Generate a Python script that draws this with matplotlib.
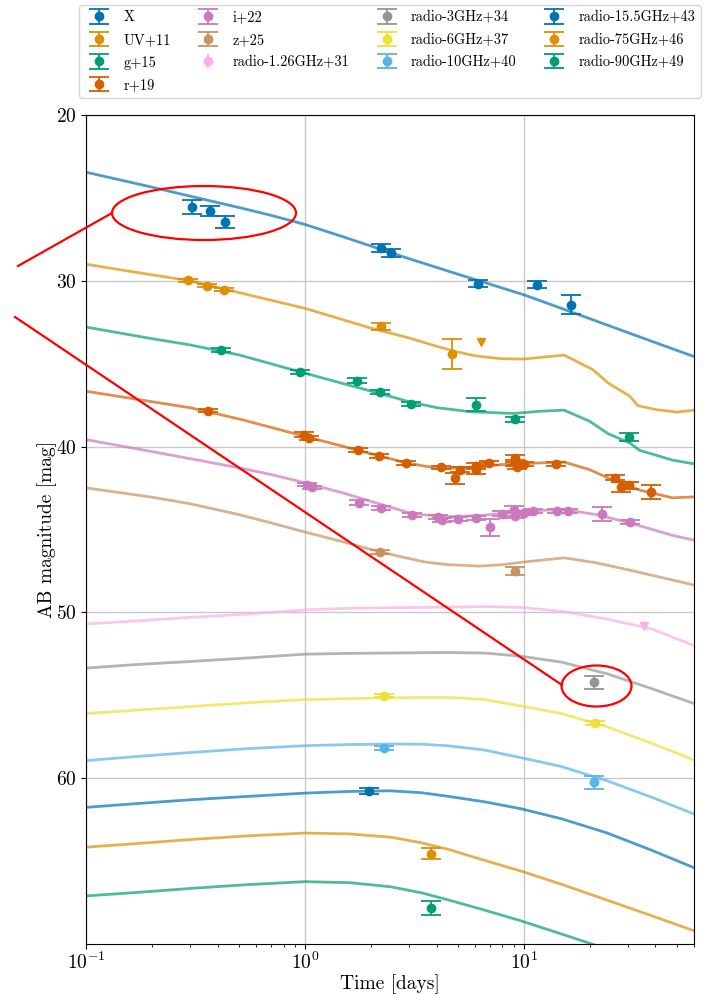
import numpy as np
import matplotlib
matplotlib.use('Agg')
import matplotlib.pyplot as plt
from matplotlib.patches import Ellipse
from matplotlib.lines import Line2D

plt.rcParams['font.family'] = 'serif'
plt.rcParams['font.serif'] = ['cmr10']
plt.rcParams['mathtext.fontset'] = 'cm'
plt.rcParams['axes.formatter.use_mathtext'] = True
plt.rcParams['axes.unicode_minus'] = False

colors = ['#0173B2', '#DE8F05', '#029E73', '#D55E00', '#CC78BC', '#CA9161',
          '#FBAFE4', '#949494', '#ECE133', '#56B4E9', '#0173B2', '#DE8F05', '#029E73']
labels = ['X', 'UV+11', 'g+15', 'r+19', 'i+22', 'z+25', 'radio-1.26GHz+31',
          'radio-3GHz+34', 'radio-6GHz+37', 'radio-10GHz+40', 'radio-15.5GHz+43',
          'radio-75GHz+46', 'radio-90GHz+49']

# model light curves (days, shifted AB mag)
mt_X = [0.1, 0.2, 0.3, 0.5, 0.7, 1, 1.5, 2, 3, 5, 7, 10, 15, 20, 30, 40, 60]
mm_X = [23.45, 24.35, 24.9, 25.58, 26.05, 26.6, 27.35, 27.9, 28.67, 29.6, 30.2,
        30.84, 31.68, 32.28, 33.13, 33.73, 34.57]
mt_UV = [0.1, 0.2, 0.3, 0.5, 1, 2, 3, 4, 5, 6, 7, 8, 10, 15.3, 20.7, 24.3, 30.5,
         33.3, 40.3, 50, 60]
mm_UV = [29.0, 29.64, 30.0, 30.71, 31.66, 32.85, 33.45, 33.95, 34.3, 34.52, 34.63,
         34.7, 34.72, 34.48, 35.36, 36.16, 36.96, 37.53, 37.77, 37.92, 37.8]
mt_g = [0.1, 0.2, 0.3, 0.5, 1, 2, 2.5, 3, 4, 5.7, 9, 11.8, 15.3, 20, 24.3, 30.5,
        33.8, 48, 60]
mm_g = [32.79, 33.49, 33.87, 34.47, 35.57, 36.65, 37.0, 37.3, 37.65, 37.9, 38.0,
        37.87, 37.8, 38.47, 39.22, 39.78, 40.22, 40.82, 41.04]
mt_r = [0.1, 0.2, 0.3, 0.5, 1, 2, 2.9, 3.6, 4.3, 5.2, 6.3, 8, 10, 15.3, 20, 24.3,
        30.5, 34, 48, 60]
mm_r = [36.66, 37.29, 37.66, 38.33, 39.38, 40.42, 40.98, 41.2, 41.3, 41.3, 41.2,
        41.08, 41.02, 40.93, 41.39, 41.89, 42.39, 42.63, 43.09, 43.03]
mt_i = [0.1, 0.2, 0.3, 0.5, 0.7, 1, 1.5, 2, 3.1, 4.4, 6.3, 10, 15.3, 21.5, 30.5,
        48, 60]
mm_i = [39.58, 40.3, 40.73, 41.28, 41.68, 42.18, 42.8, 43.3, 44.05, 44.23, 44.16,
        43.89, 43.8, 44.1, 44.6, 45.36, 45.64]
mt_z = [0.1, 0.2, 0.3, 0.5, 0.7, 1, 1.5, 2, 2.7, 3.5, 4.4, 6.3, 8, 10, 15.3, 21.5,
        30.5, 60]
mm_z = [42.49, 43.05, 43.45, 44.1, 44.6, 45.15, 45.75, 46.2, 46.62, 46.95, 47.11,
        47.21, 47.12, 46.96, 46.71, 47.01, 47.45, 48.35]

mt_radio = [0.1, 0.167, 0.3, 0.545, 1, 1.6, 2.47, 3.43, 4.55, 6.6, 9.7, 14.9, 24,
            38.5, 60]
mm_r126 = [50.7, 50.52, 50.3, 50.1, 49.85, 49.75, 49.72, 49.7, 49.68, 49.65, 49.7,
           49.93, 50.4, 51.0, 52.0]
mm_r3 = [53.36, 53.15, 52.96, 52.75, 52.52, 52.47, 52.45, 52.43, 52.42, 52.45,
         52.64, 53.0, 53.7, 54.6, 55.5]
mm_r6 = [56.1, 55.9, 55.68, 55.45, 55.26, 55.2, 55.15, 55.13, 55.13, 55.25, 55.64,
         56.1, 56.9, 57.9, 58.9]
mm_r10 = [58.94, 58.7, 58.45, 58.22, 58.04, 57.97, 57.94, 57.95, 58.05, 58.3,
          58.76, 59.3, 60.15, 61.15, 62.16]
mm_r155 = [61.76, 61.54, 61.3, 61.1, 60.9, 60.8, 60.76, 60.88, 61.1, 61.42, 61.84,
           62.45, 63.3, 64.35, 65.4]
mm_r75 = [64.16, 63.95, 63.7, 63.48, 63.31, 63.36, 63.56, 63.9, 64.3, 64.95, 65.6,
          66.4, 67.35, 68.3, 69.2]
mm_r90 = [67.1, 66.9, 66.65, 66.42, 66.24, 66.3, 66.55, 66.92, 67.35, 67.95, 68.6,
          69.4, 70.3, 71.2, 72.0]

# observations: time, shifted mag, 1-sigma error
ot_X = [0.305, 0.368, 0.431, 2.22, 2.47, 6.17, 11.5, 16.4]
om_X = [25.54, 25.78, 26.45, 28.01, 28.31, 30.18, 30.24, 31.45]
oe_X = [0.44, 0.32, 0.36, 0.24, 0.24, 0.2, 0.2, 0.58]
ot_UV = [0.294, 0.357, 0.427, 2.22, 4.72]
om_UV = [29.98, 30.3, 30.54, 32.75, 34.42]
oe_UV = [0.08, 0.08, 0.08, 0.22, 0.88]
ot_g = [0.412, 0.955, 1.74, 2.2, 3.07, 6.08, 9.1, 30.3]
om_g = [34.18, 35.5, 36.02, 36.7, 37.41, 37.47, 38.35, 39.42]
oe_g = [0.1, 0.1, 0.15, 0.12, 0.12, 0.38, 0.15, 0.25]
ot_r = [0.36, 0.99, 1.05, 1.75, 2.18, 2.89, 4.21, 5.1, 4.86, 6.08, 6.08, 6.92, 9.1,
        9.1, 9.3, 10.0, 14.1, 26.1, 27.9, 30.3, 38.0]
om_r = [37.83, 39.28, 39.48, 40.18, 40.54, 40.98, 41.26, 41.4, 41.92, 41.16, 41.44,
        40.98, 40.7, 40.98, 41.23, 41.02, 41.03, 41.88, 42.41, 42.34, 42.74]
oe_r = [0.1, 0.15, 0.12, 0.12, 0.12, 0.1, 0.12, 0.15, 0.33, 0.2, 0.2, 0.12, 0.2,
        0.2, 0.15, 0.12, 0.12, 0.15, 0.3, 0.2, 0.42]
ot_i = [1.02, 1.08, 1.76, 2.22, 3.1, 4.06, 4.24, 5.0, 6.08, 7.03, 7.95, 9.0, 9.1,
        10.0, 11.0, 14.2, 15.9, 22.9, 30.5]
om_i = [42.29, 42.45, 43.39, 43.69, 44.15, 44.25, 44.45, 44.34, 44.32, 44.86, 44.05,
        43.8, 44.16, 43.99, 43.89, 43.89, 43.86, 44.05, 44.54]
oe_i = [0.1, 0.1, 0.15, 0.12, 0.12, 0.12, 0.12, 0.12, 0.12, 0.52, 0.15, 0.2, 0.15,
        0.12, 0.12, 0.12, 0.12, 0.43, 0.12]
ot_z = [2.2, 9.1]
om_z = [46.34, 47.5]
oe_z = [0.12, 0.26]
ot_r3 = [21.0]
om_r3 = [54.22]
oe_r3 = [0.38]
ot_r6 = [2.3, 21.2]
om_r6 = [55.03, 56.67]
oe_r6 = [0.1, 0.1]
ot_r10 = [2.3, 21.0]
om_r10 = [58.17, 60.25]
oe_r10 = [0.1, 0.4]
ot_r155 = [1.97]
om_r155 = [60.78]
oe_r155 = [0.2]
ot_r75 = [3.78]
om_r75 = [64.55]
oe_r75 = [0.32]
ot_r90 = [3.78]
om_r90 = [67.82]
oe_r90 = [0.42]

# upper limits
ul_t_UV = [6.38]
ul_m_UV = [33.7]
ul_t_r126 = [35.6]
ul_m_r126 = [50.82]

models = [(mt_X, mm_X), (mt_UV, mm_UV), (mt_g, mm_g), (mt_r, mm_r), (mt_i, mm_i),
          (mt_z, mm_z), (mt_radio, mm_r126), (mt_radio, mm_r3), (mt_radio, mm_r6),
          (mt_radio, mm_r10), (mt_radio, mm_r155), (mt_radio, mm_r75),
          (mt_radio, mm_r90)]
obs = [(ot_X, om_X, oe_X), (ot_UV, om_UV, oe_UV), (ot_g, om_g, oe_g),
       (ot_r, om_r, oe_r), (ot_i, om_i, oe_i), (ot_z, om_z, oe_z), None,
       (ot_r3, om_r3, oe_r3), (ot_r6, om_r6, oe_r6), (ot_r10, om_r10, oe_r10),
       (ot_r155, om_r155, oe_r155), (ot_r75, om_r75, oe_r75), (ot_r90, om_r90, oe_r90)]

fig = plt.figure(figsize=(7.04, 9.94), dpi=100)
ax = fig.add_axes([86/704, 1 - 944/994, 608/704, 829/994])

handles = []
for k in range(len(labels)):
    c = colors[k]
    t, m = models[k]
    ax.plot(t, m, color=c, alpha=0.7, lw=2, zorder=2)
    if obs[k] is not None:
        ot, om, oe = obs[k]
        h = ax.errorbar(ot, om, yerr=oe, fmt='o', color=c, ms=6, capsize=7,
                        elinewidth=1.3, capthick=1.3, zorder=3, label=labels[k])
    else:
        h = ax.errorbar([np.nan], [np.nan], yerr=[0.3], fmt='o', color=c, ms=6,
                        capsize=0, elinewidth=1.3, label=labels[k])
    handles.append(h)

ax.plot(ul_t_UV, ul_m_UV, 'v', color=colors[1], ms=6, zorder=3)
ax.plot(ul_t_r126, ul_m_r126, 'v', color=colors[6], ms=6, zorder=3)

ax.set_xscale('log')
ax.set_xlim(0.1, 60)
ax.set_ylim(70, 20)
ax.set_yticks([20, 30, 40, 50, 60])
ax.grid(True, which='major', color='#c8c8c8', lw=1)
ax.set_axisbelow(True)
ax.tick_params(labelsize=14)
ax.tick_params(axis='x', pad=2)
ax.set_xlabel('Time [days]', fontsize=14, labelpad=1)
ax.set_ylabel('AB magnitude [mag]', fontsize=14)
ax.yaxis.set_label_coords(-0.047, 0.5)

ax.legend(handles=handles, labels=labels, ncol=4, fontsize=10.4,
          loc='upper center', bbox_to_anchor=(390/704, 1 - 5/994),
          bbox_transform=fig.transFigure, borderaxespad=0, columnspacing=1.55,
          handletextpad=0.7, labelspacing=0.6, frameon=True, edgecolor='#cccccc')

# red highlight marks
red = '#ff0000'
fig.patches.append(Ellipse((204/704, 1 - 213/994), 184/704, 54/994, fill=False,
                           edgecolor=red, lw=1.6, transform=fig.transFigure))
fig.patches.append(Ellipse((596.5/704, 1 - 686/994), 70/704, 41/994, fill=False,
                           edgecolor=red, lw=1.6, transform=fig.transFigure))
fig.lines.append(Line2D([18/704, 112/704], [1 - 266/994, 1 - 213/994], color=red,
                        lw=1.6, transform=fig.transFigure))
fig.lines.append(Line2D([15/704, 562/704], [1 - 317/994, 1 - 685/994], color=red,
                        lw=1.6, transform=fig.transFigure))

fig.savefig('out.png', dpi=100)
